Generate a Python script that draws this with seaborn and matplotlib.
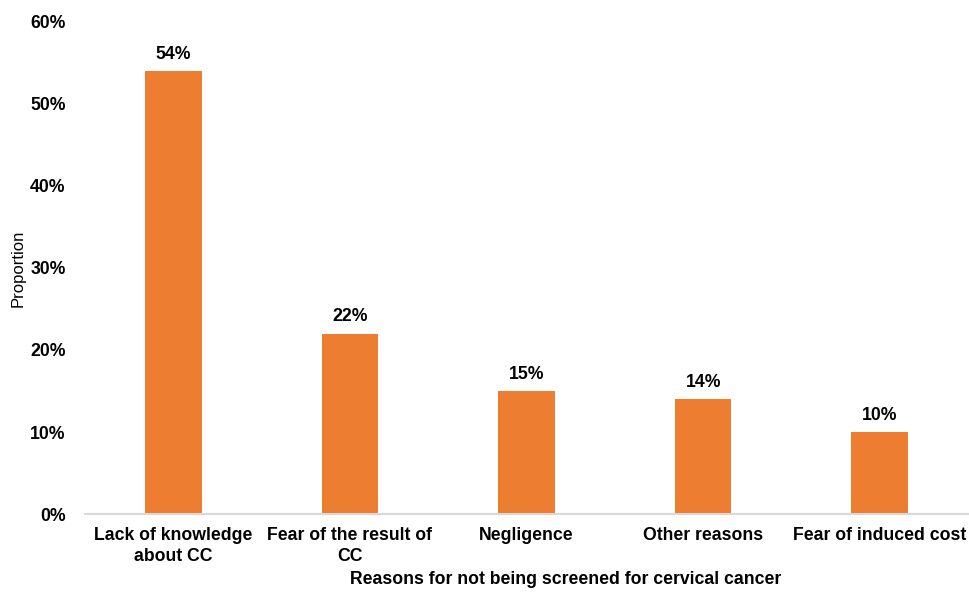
import matplotlib
matplotlib.use("Agg")
import matplotlib.pyplot as plt
import seaborn as sns
import pandas as pd

reasons = ["Lack of knowledge\nabout CC", "Fear of the result of\nCC", "Negligence",
           "Other reasons", "Fear of induced cost"]
proportions = [54, 22, 15, 14, 10]
y_ticks = [0, 10, 20, 30, 40, 50, 60]

sns.set_theme(style="white")
plt.rcParams["font.family"] = ["Liberation Sans", "DejaVu Sans"]
plt.rcParams["text.color"] = "black"

df = pd.DataFrame({"reason": reasons, "proportion": proportions})

fig = plt.figure(figsize=(9.7, 5.93), dpi=100)
ax = fig.add_axes([0.0876, 0.1332, 0.9104, 0.8298])

sns.barplot(data=df, x="reason", y="proportion", color="#ED7D31", saturation=1,
            width=0.32, linewidth=0, ax=ax)

ax.set_ylim(0, 60)
ax.set_xlim(-0.5, len(reasons) - 0.5)
ax.set_yticks(y_ticks)
ax.set_yticklabels([f"{t}%" for t in y_ticks], fontweight="bold", fontsize=12.7)
ax.set_xticks(range(len(reasons)))
ax.set_xticklabels(reasons, fontweight="bold", fontsize=12.7, linespacing=1.3)
ax.tick_params(axis="both", length=0, colors="black")
ax.tick_params(axis="y", pad=14)
ax.tick_params(axis="x", pad=9.5)

for s in ["top", "right", "left"]:
    ax.spines[s].set_visible(False)
ax.spines["bottom"].set_color("#d9d9d9")
ax.spines["bottom"].set_linewidth(1.5)

for i, v in enumerate(proportions):
    ax.annotate(f"{v}%", (i, v), xytext=(0, 6), textcoords="offset points",
                ha="center", va="bottom", fontweight="bold", fontsize=12.7,
                color="black")

ax.set_xlabel("")
ax.set_ylabel("")
fig.text(566 / 970, 1 - 580 / 593, "Reasons for not being screened for cervical cancer",
         ha="center", va="center", fontweight="bold", fontsize=12.7, color="black")
fig.text(18 / 970, 1 - 268 / 593, "Proportion", rotation=90, ha="center", va="center",
         fontsize=12, color="black")

fig.savefig("out.png", dpi=100)
